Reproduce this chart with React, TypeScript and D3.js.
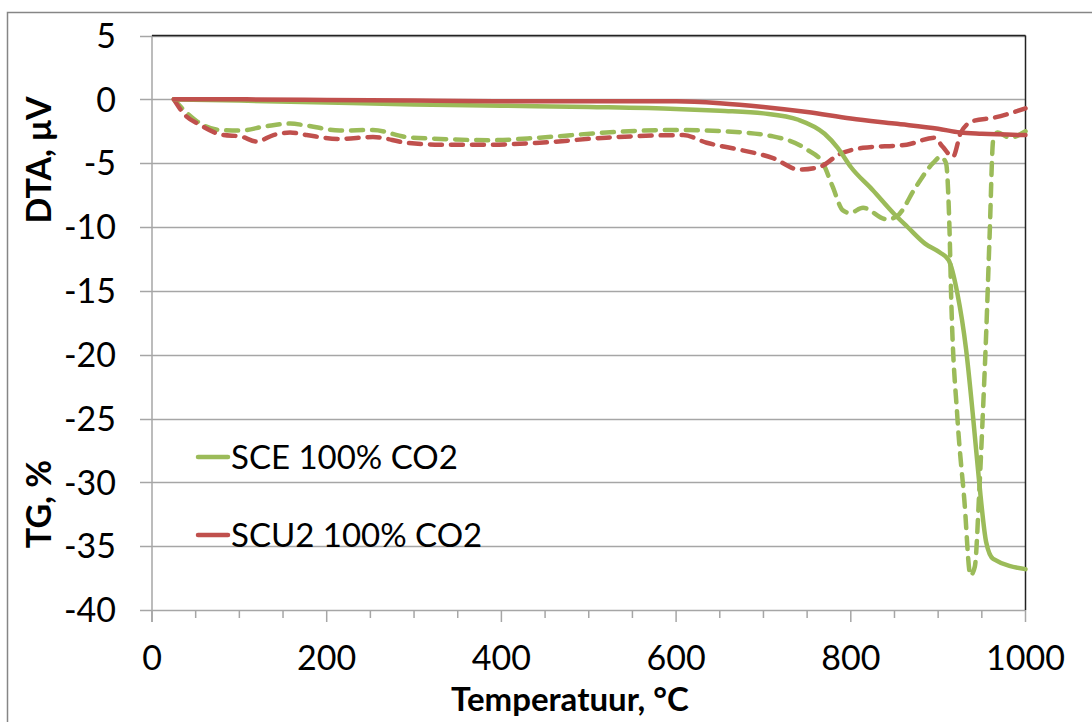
import React from "react";
import * as d3 from "d3";

// Temperature (°C) and signal values for each curve
const sceTgT = [25, 100, 200, 300, 400, 500, 600, 650, 700, 740, 770, 785, 800, 825, 850, 865, 885, 902, 912, 922, 932, 940, 947, 955, 963, 1000];
const sceTgV = [0, -0.1, -0.25, -0.4, -0.5, -0.6, -0.75, -0.9, -1.1, -1.6, -2.7, -3.8, -5.3, -7.1, -9.0, -10.0, -11.3, -12.0, -12.6, -15.2, -19.6, -24.9, -30, -34.7, -36.0, -36.8];

const scu2TgT = [25, 100, 200, 300, 400, 500, 600, 650, 700, 750, 800, 850, 900, 925, 950, 1000];
const scu2TgV = [0, 0, -0.05, -0.1, -0.15, -0.15, -0.15, -0.3, -0.6, -1.0, -1.5, -1.9, -2.3, -2.6, -2.7, -2.8];

const sceDtaT = [25, 51, 78, 101, 131, 158, 177, 215, 253, 291, 330, 387, 444, 520, 596, 653, 711, 749, 768, 779, 791, 799, 814, 841, 852, 875, 894, 903, 909, 913, 915, 922, 930, 937, 942, 947, 951, 955, 959, 963, 968, 982, 1000];
const sceDtaV = [0, -1.7, -2.4, -2.45, -2.1, -1.9, -2.05, -2.45, -2.4, -2.95, -3.1, -3.2, -3.0, -2.6, -2.4, -2.5, -2.9, -3.9, -5.0, -6.8, -8.7, -8.9, -8.5, -9.4, -9.2, -6.8, -5.0, -4.5, -5.0, -10.2, -15.7, -24.9, -31.4, -37.3, -36.6, -30.8, -24.9, -18.3, -10.5, -3.2, -2.6, -3.0, -2.5];

const scu2DtaT = [25, 36, 55, 82, 101, 120, 139, 158, 177, 215, 253, 291, 330, 387, 444, 520, 608, 635, 673, 711, 741, 764, 787, 814, 864, 896, 905, 917, 926, 940, 963, 1000];
const scu2DtaV = [0, -1.1, -2.0, -2.8, -2.9, -3.3, -2.8, -2.6, -2.8, -3.1, -2.95, -3.4, -3.55, -3.55, -3.4, -3.0, -2.8, -3.4, -3.95, -4.6, -5.5, -5.3, -4.3, -3.8, -3.55, -3.0, -3.7, -4.5, -2.6, -1.7, -1.45, -0.7];

const yTicks = [5, 0, -5, -10, -15, -20, -25, -30, -35, -40];
const xTicks = [0, 200, 400, 600, 800, 1000];
const legendNames = ["SCE 100% CO2", "SCU2 100% CO2"];

const GREEN = "#9BBB59";
const RED = "#C0504D";
const FONT = "Lato, 'Open Sans', sans-serif";

export default function App() {
  const left = 152, right = 1025.5, top = 35.5, bottom = 610;
  const x = d3.scaleLinear().domain([0, 1000]).range([left, right]);
  const y = d3.scaleLinear().domain([-40, 5]).range([bottom, top]);

  const line = d3.line<[number, number]>()
    .x(d => x(d[0]))
    .y(d => y(d[1]))
    .curve(d3.curveMonotoneX);

  const zip = (t: number[], v: number[]) => t.map((tt, i) => [tt, v[i]] as [number, number]);

  const minorTicks = d3.range(0, 1001, 50);

  return (
    <svg width={1092} height={722} style={{ position: "absolute", left: 0, top: 0, background: "#fff" }}>
      <rect x={7.5} y={12.5} width={1200} height={800} fill="#fff" stroke="#868686" strokeWidth={1.5} />

      {/* horizontal gridlines and y ticks */}
      {yTicks.map(t => (
        <g key={t}>
          <line x1={140} x2={right} y1={Math.round(y(t)) + 0.5} y2={Math.round(y(t)) + 0.5} stroke="#A6A6A6" strokeWidth={1.5} />
          <text x={116} y={y(t)} dy="0.36em" textAnchor="end" fontFamily={FONT} fontSize={34} fill="#000">{t}</text>
        </g>
      ))}

      {/* left axis line */}
      <line x1={left} x2={left} y1={top} y2={bottom + 12} stroke="#A6A6A6" strokeWidth={1.5} />

      {/* x ticks */}
      {minorTicks.map(t => (
        <line key={t} x1={x(t)} x2={x(t)} y1={bottom} y2={bottom + (t % 200 === 0 ? 12 : 8)} stroke="#A6A6A6" strokeWidth={1.5} />
      ))}
      {xTicks.map(t => (
        <text key={t} x={x(t)} y={658} dy="0.36em" textAnchor="middle" fontFamily={FONT} fontSize={34} fill="#000">{t}</text>
      ))}

      {/* plot frame top and right */}
      <line x1={left} x2={right} y1={top} y2={top} stroke="#222" strokeWidth={1.5} />
      <line x1={right} x2={right} y1={top} y2={bottom} stroke="#222" strokeWidth={1.5} />

      {/* DTA curves (dashed) */}
      <path d={line(zip(sceDtaT, sceDtaV)) || ""} fill="none" stroke={GREEN} strokeWidth={4.5} strokeDasharray="12 9" strokeLinecap="round" strokeLinejoin="round" />
      <path d={line(zip(scu2DtaT, scu2DtaV)) || ""} fill="none" stroke={RED} strokeWidth={4.5} strokeDasharray="12 9" strokeLinecap="round" strokeLinejoin="round" />

      {/* TG curves (solid) */}
      <path d={line(zip(sceTgT, sceTgV)) || ""} fill="none" stroke={GREEN} strokeWidth={4.5} strokeLinejoin="round" strokeLinecap="round" />
      <path d={line(zip(scu2TgT, scu2TgV)) || ""} fill="none" stroke={RED} strokeWidth={4.5} strokeLinejoin="round" strokeLinecap="round" />

      {/* legend */}
      {legendNames.map((n, i) => {
        const ly = i === 0 ? 457 : 535;
        return (
          <g key={n}>
            <line x1={198} x2={228} y1={ly} y2={ly} stroke={i === 0 ? GREEN : RED} strokeWidth={4.5} strokeLinecap="round" />
            <text x={231} y={ly} dy="0.36em" fontFamily={FONT} fontSize={33} fill="#000">{n}</text>
          </g>
        );
      })}

      {/* axis titles */}
      <text transform="translate(51,160) rotate(-90)" textAnchor="middle" fontFamily={FONT} fontWeight="bold" fontSize={34} fill="#000">DTA, μV</text>
      <text transform="translate(51,504) rotate(-90)" textAnchor="middle" fontFamily={FONT} fontWeight="bold" fontSize={34} fill="#000">TG, %</text>
      <text x={570} y={711} textAnchor="middle" fontFamily={FONT} fontWeight="bold" fontSize={33} fill="#000">Temperatuur, °C</text>
    </svg>
  );
}
